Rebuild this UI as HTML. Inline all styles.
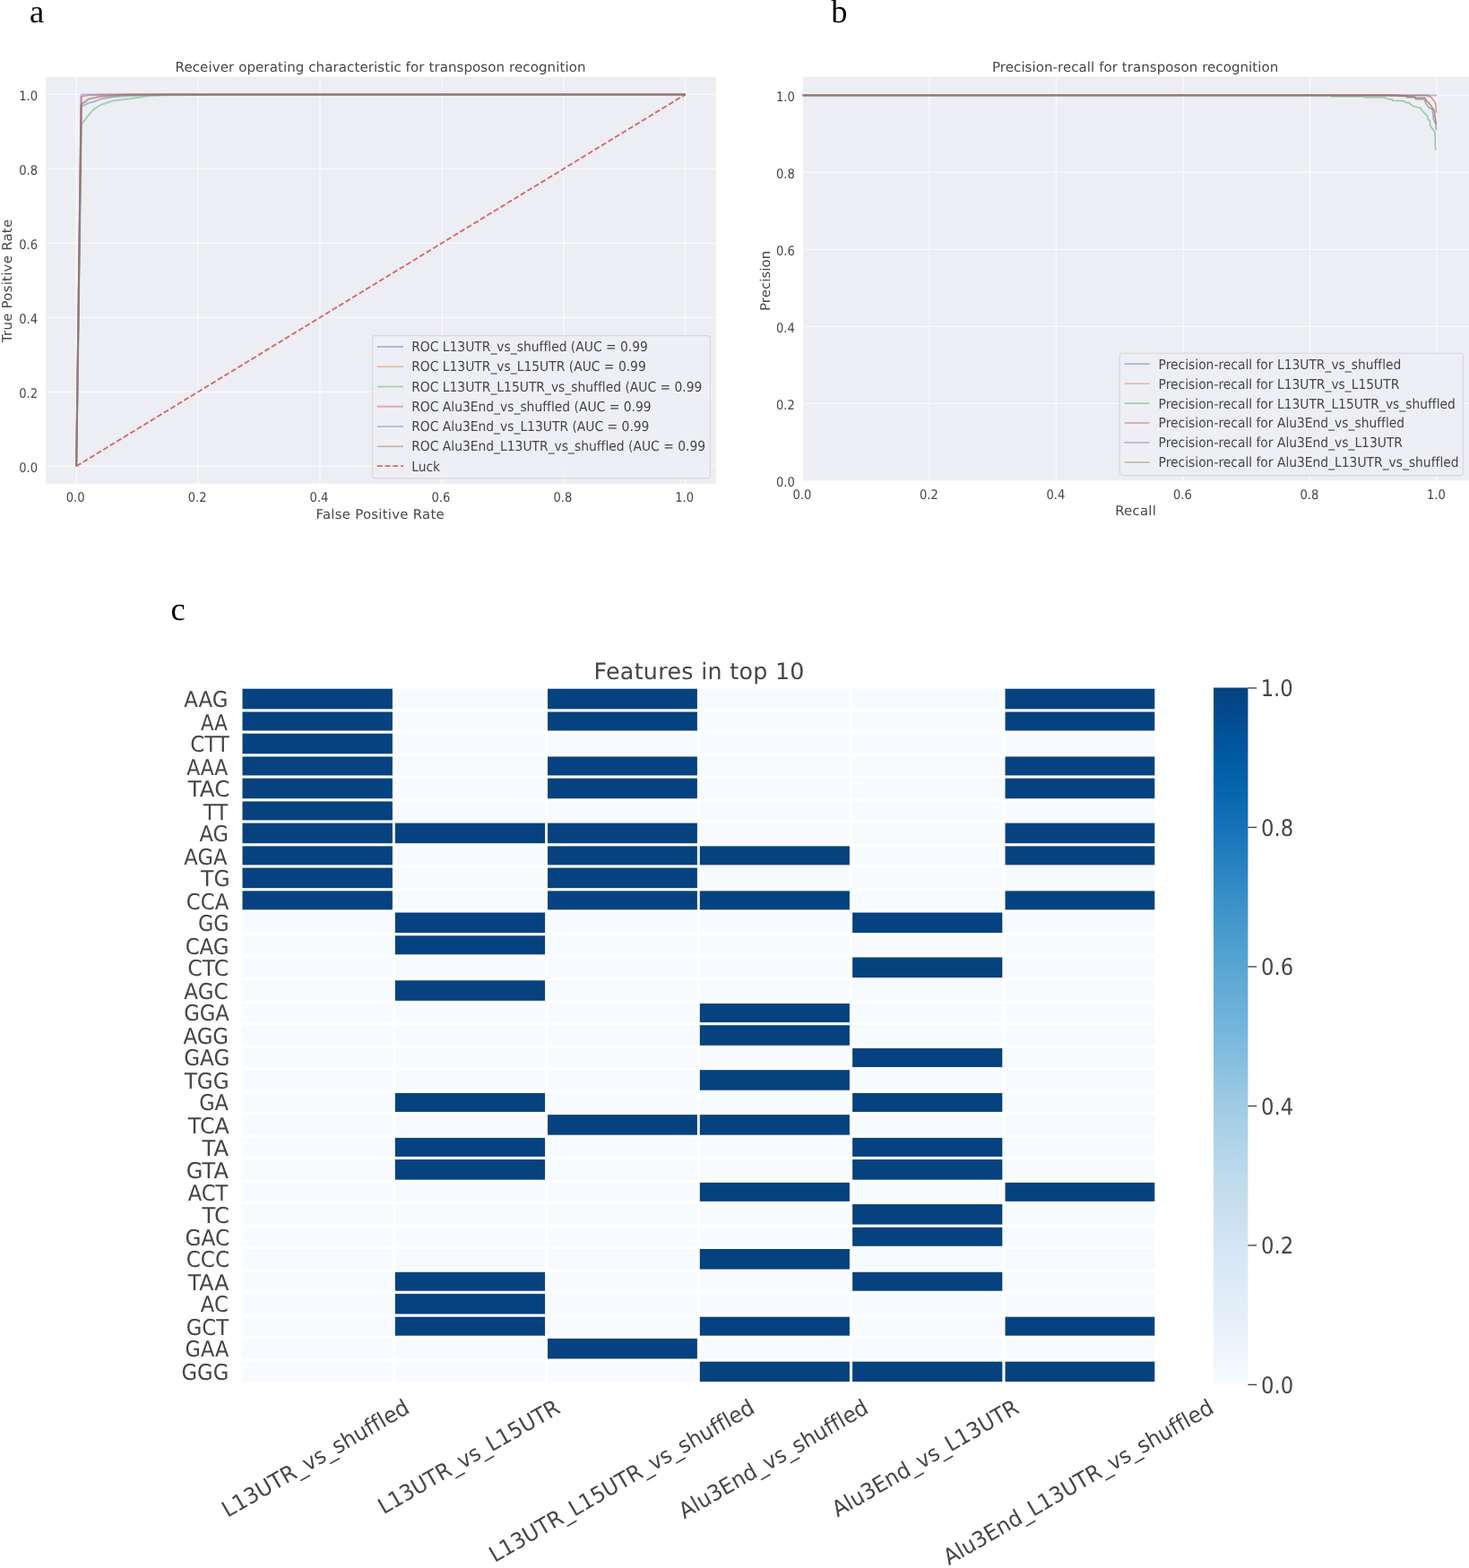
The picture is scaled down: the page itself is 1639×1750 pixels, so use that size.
<!DOCTYPE html>
<html><head><meta charset="utf-8"><title>Figure</title>
<style>html,body{margin:0;padding:0;background:#fff;}svg{display:block;}
text{font-family:'DejaVu Sans', 'Liberation Sans', sans-serif;fill:#464646;font-variant-ligatures:none;text-rendering:geometricPrecision;}</style></head>
<body><svg width="1639" height="1750" viewBox="0 0 1639 1750">
<rect width="1639" height="1750" fill="#fff"/>
<text x="32.9" y="25.1" font-size="36.5" style="fill:#000;font-family:'Liberation Serif', 'DejaVu Serif', serif;">a</text>
<text x="927.2" y="24.9" font-size="36.5" style="fill:#000;font-family:'Liberation Serif', 'DejaVu Serif', serif;">b</text>
<text x="190.5" y="691.5" font-size="36.5" style="fill:#000;font-family:'Liberation Serif', 'DejaVu Serif', serif;">c</text>
<rect x="51.25" y="85.9" width="747.55" height="453.9" fill="#EDEEF3"/>
<line x1="85.2" y1="85.9" x2="85.2" y2="539.8" stroke="#f8f9fb" stroke-width="1.3"/>
<line x1="51.25" y1="520.3" x2="798.8" y2="520.3" stroke="#f8f9fb" stroke-width="1.3"/>
<line x1="221.1" y1="85.9" x2="221.1" y2="539.8" stroke="#f8f9fb" stroke-width="1.3"/>
<line x1="51.25" y1="437.32" x2="798.8" y2="437.32" stroke="#f8f9fb" stroke-width="1.3"/>
<line x1="357" y1="85.9" x2="357" y2="539.8" stroke="#f8f9fb" stroke-width="1.3"/>
<line x1="51.25" y1="354.34" x2="798.8" y2="354.34" stroke="#f8f9fb" stroke-width="1.3"/>
<line x1="492.9" y1="85.9" x2="492.9" y2="539.8" stroke="#f8f9fb" stroke-width="1.3"/>
<line x1="51.25" y1="271.36" x2="798.8" y2="271.36" stroke="#f8f9fb" stroke-width="1.3"/>
<line x1="628.8" y1="85.9" x2="628.8" y2="539.8" stroke="#f8f9fb" stroke-width="1.3"/>
<line x1="51.25" y1="188.38" x2="798.8" y2="188.38" stroke="#f8f9fb" stroke-width="1.3"/>
<line x1="764.7" y1="85.9" x2="764.7" y2="539.8" stroke="#f8f9fb" stroke-width="1.3"/>
<line x1="51.25" y1="105.4" x2="798.8" y2="105.4" stroke="#f8f9fb" stroke-width="1.3"/>
<text x="84.2" y="559.8" font-size="14.6" text-anchor="middle" textLength="20.85" lengthAdjust="spacingAndGlyphs">0.0</text>
<text x="42.05" y="526.7" font-size="14.6" text-anchor="end" textLength="20.85" lengthAdjust="spacingAndGlyphs">0.0</text>
<text x="220.1" y="559.8" font-size="14.6" text-anchor="middle" textLength="20.85" lengthAdjust="spacingAndGlyphs">0.2</text>
<text x="42.05" y="443.72" font-size="14.6" text-anchor="end" textLength="20.85" lengthAdjust="spacingAndGlyphs">0.2</text>
<text x="356" y="559.8" font-size="14.6" text-anchor="middle" textLength="20.85" lengthAdjust="spacingAndGlyphs">0.4</text>
<text x="42.05" y="360.74" font-size="14.6" text-anchor="end" textLength="20.85" lengthAdjust="spacingAndGlyphs">0.4</text>
<text x="491.9" y="559.8" font-size="14.6" text-anchor="middle" textLength="20.85" lengthAdjust="spacingAndGlyphs">0.6</text>
<text x="42.05" y="277.76" font-size="14.6" text-anchor="end" textLength="20.85" lengthAdjust="spacingAndGlyphs">0.6</text>
<text x="627.8" y="559.8" font-size="14.6" text-anchor="middle" textLength="20.85" lengthAdjust="spacingAndGlyphs">0.8</text>
<text x="42.05" y="194.78" font-size="14.6" text-anchor="end" textLength="20.85" lengthAdjust="spacingAndGlyphs">0.8</text>
<text x="763.7" y="559.8" font-size="14.6" text-anchor="middle" textLength="20.85" lengthAdjust="spacingAndGlyphs">1.0</text>
<text x="42.05" y="111.8" font-size="14.6" text-anchor="end" textLength="20.85" lengthAdjust="spacingAndGlyphs">1.0</text>
<text x="195.6" y="79.8" font-size="15" textLength="457.86" lengthAdjust="spacing">Receiver operating characteristic for transposon recognition</text>
<text x="352.51" y="578.5" font-size="14.85" textLength="143.19" lengthAdjust="spacing">False Positive Rate</text>
<text transform="translate(13.0,382.13) rotate(-90)" font-size="14.85" textLength="137.21" lengthAdjust="spacing">True Positive Rate</text>
<polyline points="85.2,520.3 90.64,118.88 98.52,115.15 105.31,113.28 112.38,110.59 126.65,108.1 146.36,106.64 187.12,105.4 764.7,105.4" fill="none" stroke="#4C72B0" stroke-opacity="0.45" stroke-width="2" stroke-linejoin="round"/>
<polyline points="85.2,520.3 90.64,117.02 98.79,110.79 112.38,107.89 139.56,105.81 166.74,105.4 764.7,105.4" fill="none" stroke="#DD8452" stroke-opacity="0.45" stroke-width="2" stroke-linejoin="round"/>
<polyline points="85.2,520.3 90.98,139.01 97.43,130.09 104.23,122.41 112.38,117.02 125.97,112.45 146.36,109.96 166.06,107.06 185.09,106.23 248.28,105.4 764.7,105.4" fill="none" stroke="#55A868" stroke-opacity="0.45" stroke-width="2" stroke-linejoin="round"/>
<polyline points="85.2,520.3 90.64,107.89 98.79,106.23 119.18,105.4 764.7,105.4" fill="none" stroke="#C44E52" stroke-opacity="0.45" stroke-width="2" stroke-linejoin="round"/>
<polyline points="85.2,520.3 90.64,105.4 764.7,105.4" fill="none" stroke="#8172B3" stroke-opacity="0.45" stroke-width="2" stroke-linejoin="round"/>
<polyline points="85.2,520.3 90.64,116.19 98.79,110.38 112.38,107.47 139.56,105.81 159.94,105.4 764.7,105.4" fill="none" stroke="#937860" stroke-opacity="0.45" stroke-width="2" stroke-linejoin="round"/>
<line x1="85.2" y1="520.3" x2="764.7" y2="105.4" stroke="#cf585c" stroke-opacity="0.88" stroke-width="1.9" stroke-dasharray="6.0,2.8"/>
<rect x="415.6" y="374.6" width="376.8" height="159.2" rx="3.5" fill="#EDEEF3" fill-opacity="0.85" stroke="#d8d8dd" stroke-width="1.2"/>
<line x1="420.7" y1="387" x2="450" y2="387" stroke="#4C72B0" stroke-opacity="0.42" stroke-width="2"/>
<text x="459.21" y="392" font-size="15.2" textLength="263.68" lengthAdjust="spacingAndGlyphs">ROC L13UTR_vs_shuffled (AUC = 0.99</text>
<line x1="420.7" y1="409.25" x2="450" y2="409.25" stroke="#DD8452" stroke-opacity="0.42" stroke-width="2"/>
<text x="459.21" y="414.25" font-size="15.2" textLength="261.55" lengthAdjust="spacingAndGlyphs">ROC L13UTR_vs_L15UTR (AUC = 0.99</text>
<line x1="420.7" y1="431.5" x2="450" y2="431.5" stroke="#55A868" stroke-opacity="0.42" stroke-width="2"/>
<text x="459.21" y="436.5" font-size="15.2" textLength="324.22" lengthAdjust="spacingAndGlyphs">ROC L13UTR_L15UTR_vs_shuffled (AUC = 0.99</text>
<line x1="420.7" y1="453.75" x2="450" y2="453.75" stroke="#C44E52" stroke-opacity="0.42" stroke-width="2"/>
<text x="459.21" y="458.75" font-size="15.2" textLength="267.35" lengthAdjust="spacingAndGlyphs">ROC Alu3End_vs_shuffled (AUC = 0.99</text>
<line x1="420.7" y1="476" x2="450" y2="476" stroke="#8172B3" stroke-opacity="0.42" stroke-width="2"/>
<text x="459.21" y="481" font-size="15.2" textLength="265.23" lengthAdjust="spacingAndGlyphs">ROC Alu3End_vs_L13UTR (AUC = 0.99</text>
<line x1="420.7" y1="498.25" x2="450" y2="498.25" stroke="#937860" stroke-opacity="0.42" stroke-width="2"/>
<text x="459.21" y="503.25" font-size="15.2" textLength="327.89" lengthAdjust="spacingAndGlyphs">ROC Alu3End_L13UTR_vs_shuffled (AUC = 0.99</text>
<line x1="420.7" y1="520.1" x2="450" y2="520.1" stroke="#cf585c" stroke-opacity="0.88" stroke-width="1.9" stroke-dasharray="6.0,2.8"/>
<text x="459.21" y="525.5" font-size="15.2" textLength="31.91" lengthAdjust="spacingAndGlyphs">Luck</text>
<rect x="896" y="85.5" width="743" height="450.9" fill="#EDEEF3"/>
<line x1="1037.02" y1="85.5" x2="1037.02" y2="536.4" stroke="#f8f9fb" stroke-width="1.3"/>
<line x1="896" y1="450.4" x2="1639" y2="450.4" stroke="#f8f9fb" stroke-width="1.3"/>
<line x1="1178.54" y1="85.5" x2="1178.54" y2="536.4" stroke="#f8f9fb" stroke-width="1.3"/>
<line x1="896" y1="364.4" x2="1639" y2="364.4" stroke="#f8f9fb" stroke-width="1.3"/>
<line x1="1320.06" y1="85.5" x2="1320.06" y2="536.4" stroke="#f8f9fb" stroke-width="1.3"/>
<line x1="896" y1="278.4" x2="1639" y2="278.4" stroke="#f8f9fb" stroke-width="1.3"/>
<line x1="1461.58" y1="85.5" x2="1461.58" y2="536.4" stroke="#f8f9fb" stroke-width="1.3"/>
<line x1="896" y1="192.4" x2="1639" y2="192.4" stroke="#f8f9fb" stroke-width="1.3"/>
<line x1="1603.1" y1="85.5" x2="1603.1" y2="536.4" stroke="#f8f9fb" stroke-width="1.3"/>
<line x1="896" y1="106.4" x2="1639" y2="106.4" stroke="#f8f9fb" stroke-width="1.3"/>
<text x="894.8" y="556.7" font-size="14.6" text-anchor="middle" textLength="20.85" lengthAdjust="spacingAndGlyphs">0.0</text>
<text x="886.85" y="543.2" font-size="14.6" text-anchor="end" textLength="20.85" lengthAdjust="spacingAndGlyphs">0.0</text>
<text x="1036.32" y="556.7" font-size="14.6" text-anchor="middle" textLength="20.85" lengthAdjust="spacingAndGlyphs">0.2</text>
<text x="886.85" y="457.2" font-size="14.6" text-anchor="end" textLength="20.85" lengthAdjust="spacingAndGlyphs">0.2</text>
<text x="1177.84" y="556.7" font-size="14.6" text-anchor="middle" textLength="20.85" lengthAdjust="spacingAndGlyphs">0.4</text>
<text x="886.85" y="371.2" font-size="14.6" text-anchor="end" textLength="20.85" lengthAdjust="spacingAndGlyphs">0.4</text>
<text x="1319.36" y="556.7" font-size="14.6" text-anchor="middle" textLength="20.85" lengthAdjust="spacingAndGlyphs">0.6</text>
<text x="886.85" y="285.2" font-size="14.6" text-anchor="end" textLength="20.85" lengthAdjust="spacingAndGlyphs">0.6</text>
<text x="1460.88" y="556.7" font-size="14.6" text-anchor="middle" textLength="20.85" lengthAdjust="spacingAndGlyphs">0.8</text>
<text x="886.85" y="199.2" font-size="14.6" text-anchor="end" textLength="20.85" lengthAdjust="spacingAndGlyphs">0.8</text>
<text x="1602.4" y="556.7" font-size="14.6" text-anchor="middle" textLength="20.85" lengthAdjust="spacingAndGlyphs">1.0</text>
<text x="886.85" y="113.2" font-size="14.6" text-anchor="end" textLength="20.85" lengthAdjust="spacingAndGlyphs">1.0</text>
<text x="1107" y="79.5" font-size="15" textLength="319.29" lengthAdjust="spacing">Precision-recall for transposon recognition</text>
<text x="1244.22" y="575" font-size="14.85" textLength="45.57" lengthAdjust="spacing">Recall</text>
<text transform="translate(859.4,346.99) rotate(-90)" font-size="14.85" textLength="67.1" lengthAdjust="spacing">Precision</text>
<polyline points="895.5,106.4 1551.26,106.37 1551.26,106.98 1569.57,106.98 1569.57,108.81 1579.33,108.81 1579.33,110.64 1587.87,110.64 1589.09,111.25 1591.53,116.13 1593.97,119.79 1598.24,122.23 1599.46,133.22 1601.9,138.1 1602.51,145.42" fill="none" stroke="#4C72B0" stroke-opacity="0.55" stroke-width="1.6" stroke-linejoin="round"/>
<polyline points="895.5,106.4 1558.59,106.37 1558.59,106.98 1578.11,107.96 1579.33,109.18 1589.7,109.42 1590.92,111.25 1596.41,117.6 1600.32,124.06 1602.51,138.1" fill="none" stroke="#DD8452" stroke-opacity="0.55" stroke-width="1.6" stroke-linejoin="round"/>
<polyline points="895.5,106.4 1485.37,106.37 1485.37,107.59 1521.98,107.59 1523.2,108.81 1544.55,108.81 1546.99,110.03 1553.7,111.25 1553.7,112.47 1565.3,112.47 1568.35,114.3 1572.01,114.91 1576.89,118.57 1581.77,119.79 1584.82,120.4 1586.65,123.45 1589.09,125.89 1592.75,129.55 1593.36,133.22 1595.19,134.44 1595.8,140.54 1601.29,147.86 1601.29,164.94 1602.51,167.38" fill="none" stroke="#55A868" stroke-opacity="0.55" stroke-width="1.6" stroke-linejoin="round"/>
<polyline points="895.5,106.4 1592.75,106.37 1592.75,106.98 1596.41,108.2 1600.07,112.47 1601.9,116.13 1602.51,125.89" fill="none" stroke="#C44E52" stroke-opacity="0.55" stroke-width="1.6" stroke-linejoin="round"/>
<polyline points="895.5,106.4 1603.12,106.37" fill="none" stroke="#8172B3" stroke-opacity="0.55" stroke-width="1.6" stroke-linejoin="round"/>
<polyline points="895.5,106.4 1561.03,106.37 1561.03,106.98 1579.33,108.2 1579.33,109.42 1590.31,109.42 1590.31,111.25 1596.41,117.35 1600.07,123.45 1602.51,139.32" fill="none" stroke="#937860" stroke-opacity="0.55" stroke-width="1.6" stroke-linejoin="round"/>
<rect x="1249.25" y="394.25" width="383.15" height="136.35" rx="3.5" fill="#EDEEF3" fill-opacity="0.85" stroke="#d8d8dd" stroke-width="1.2"/>
<line x1="1254.6" y1="406.2" x2="1282.6" y2="406.2" stroke="#4C72B0" stroke-opacity="0.5" stroke-width="1.6"/>
<text x="1292.62" y="411.6" font-size="15.2" textLength="270.8" lengthAdjust="spacingAndGlyphs">Precision-recall for L13UTR_vs_shuffled</text>
<line x1="1254.6" y1="428.15" x2="1282.6" y2="428.15" stroke="#DD8452" stroke-opacity="0.5" stroke-width="1.6"/>
<text x="1292.62" y="433.55" font-size="15.2" textLength="268.68" lengthAdjust="spacingAndGlyphs">Precision-recall for L13UTR_vs_L15UTR</text>
<line x1="1254.6" y1="450.1" x2="1282.6" y2="450.1" stroke="#55A868" stroke-opacity="0.5" stroke-width="1.6"/>
<text x="1292.62" y="455.5" font-size="15.2" textLength="331.28" lengthAdjust="spacingAndGlyphs">Precision-recall for L13UTR_L15UTR_vs_shuffled</text>
<line x1="1254.6" y1="472.05" x2="1282.6" y2="472.05" stroke="#C44E52" stroke-opacity="0.5" stroke-width="1.6"/>
<text x="1292.62" y="477.45" font-size="15.2" textLength="274.48" lengthAdjust="spacingAndGlyphs">Precision-recall for Alu3End_vs_shuffled</text>
<line x1="1254.6" y1="494" x2="1282.6" y2="494" stroke="#8172B3" stroke-opacity="0.5" stroke-width="1.6"/>
<text x="1292.62" y="499.4" font-size="15.2" textLength="272.35" lengthAdjust="spacingAndGlyphs">Precision-recall for Alu3End_vs_L13UTR</text>
<line x1="1254.6" y1="515.95" x2="1282.6" y2="515.95" stroke="#937860" stroke-opacity="0.5" stroke-width="1.6"/>
<text x="1292.62" y="521.35" font-size="15.2" textLength="334.95" lengthAdjust="spacingAndGlyphs">Precision-recall for Alu3End_L13UTR_vs_shuffled</text>
<rect x="270.5" y="768.72" width="167.4" height="22.58" fill="#06427f"/>
<rect x="440.8" y="768.72" width="167.3" height="22.58" fill="#f7fbff"/>
<rect x="611" y="768.72" width="166.9" height="22.58" fill="#06427f"/>
<rect x="780.8" y="768.72" width="167.1" height="22.58" fill="#f7fbff"/>
<rect x="951.1" y="768.72" width="167.2" height="22.58" fill="#f7fbff"/>
<rect x="1121.5" y="768.72" width="166.8" height="22.58" fill="#06427f"/>
<rect x="270.5" y="794.5" width="167.4" height="20.97" fill="#06427f"/>
<rect x="440.8" y="794.5" width="167.3" height="20.97" fill="#f7fbff"/>
<rect x="611" y="794.5" width="166.9" height="20.97" fill="#06427f"/>
<rect x="780.8" y="794.5" width="167.1" height="20.97" fill="#f7fbff"/>
<rect x="951.1" y="794.5" width="167.2" height="20.97" fill="#f7fbff"/>
<rect x="1121.5" y="794.5" width="166.8" height="20.97" fill="#06427f"/>
<rect x="270.5" y="818.68" width="167.4" height="22.58" fill="#06427f"/>
<rect x="440.8" y="818.68" width="167.3" height="22.58" fill="#f7fbff"/>
<rect x="611" y="818.68" width="166.9" height="22.58" fill="#f7fbff"/>
<rect x="780.8" y="818.68" width="167.1" height="22.58" fill="#f7fbff"/>
<rect x="951.1" y="818.68" width="167.2" height="22.58" fill="#f7fbff"/>
<rect x="1121.5" y="818.68" width="166.8" height="22.58" fill="#f7fbff"/>
<rect x="270.5" y="844.46" width="167.4" height="20.97" fill="#06427f"/>
<rect x="440.8" y="844.46" width="167.3" height="20.97" fill="#f7fbff"/>
<rect x="611" y="844.46" width="166.9" height="20.97" fill="#06427f"/>
<rect x="780.8" y="844.46" width="167.1" height="20.97" fill="#f7fbff"/>
<rect x="951.1" y="844.46" width="167.2" height="20.97" fill="#f7fbff"/>
<rect x="1121.5" y="844.46" width="166.8" height="20.97" fill="#06427f"/>
<rect x="270.5" y="868.63" width="167.4" height="22.58" fill="#06427f"/>
<rect x="440.8" y="868.63" width="167.3" height="22.58" fill="#f7fbff"/>
<rect x="611" y="868.63" width="166.9" height="22.58" fill="#06427f"/>
<rect x="780.8" y="868.63" width="167.1" height="22.58" fill="#f7fbff"/>
<rect x="951.1" y="868.63" width="167.2" height="22.58" fill="#f7fbff"/>
<rect x="1121.5" y="868.63" width="166.8" height="22.58" fill="#06427f"/>
<rect x="270.5" y="894.42" width="167.4" height="20.97" fill="#06427f"/>
<rect x="440.8" y="894.42" width="167.3" height="20.97" fill="#f7fbff"/>
<rect x="611" y="894.42" width="166.9" height="20.97" fill="#f7fbff"/>
<rect x="780.8" y="894.42" width="167.1" height="20.97" fill="#f7fbff"/>
<rect x="951.1" y="894.42" width="167.2" height="20.97" fill="#f7fbff"/>
<rect x="1121.5" y="894.42" width="166.8" height="20.97" fill="#f7fbff"/>
<rect x="270.5" y="918.59" width="167.4" height="22.58" fill="#06427f"/>
<rect x="440.8" y="918.59" width="167.3" height="22.58" fill="#06427f"/>
<rect x="611" y="918.59" width="166.9" height="22.58" fill="#06427f"/>
<rect x="780.8" y="918.59" width="167.1" height="22.58" fill="#f7fbff"/>
<rect x="951.1" y="918.59" width="167.2" height="22.58" fill="#f7fbff"/>
<rect x="1121.5" y="918.59" width="166.8" height="22.58" fill="#06427f"/>
<rect x="270.5" y="944.37" width="167.4" height="20.97" fill="#06427f"/>
<rect x="440.8" y="944.37" width="167.3" height="20.97" fill="#f7fbff"/>
<rect x="611" y="944.37" width="166.9" height="20.97" fill="#06427f"/>
<rect x="780.8" y="944.37" width="167.1" height="20.97" fill="#06427f"/>
<rect x="951.1" y="944.37" width="167.2" height="20.97" fill="#f7fbff"/>
<rect x="1121.5" y="944.37" width="166.8" height="20.97" fill="#06427f"/>
<rect x="270.5" y="968.55" width="167.4" height="22.58" fill="#06427f"/>
<rect x="440.8" y="968.55" width="167.3" height="22.58" fill="#f7fbff"/>
<rect x="611" y="968.55" width="166.9" height="22.58" fill="#06427f"/>
<rect x="780.8" y="968.55" width="167.1" height="22.58" fill="#f7fbff"/>
<rect x="951.1" y="968.55" width="167.2" height="22.58" fill="#f7fbff"/>
<rect x="1121.5" y="968.55" width="166.8" height="22.58" fill="#f7fbff"/>
<rect x="270.5" y="994.33" width="167.4" height="20.97" fill="#06427f"/>
<rect x="440.8" y="994.33" width="167.3" height="20.97" fill="#f7fbff"/>
<rect x="611" y="994.33" width="166.9" height="20.97" fill="#06427f"/>
<rect x="780.8" y="994.33" width="167.1" height="20.97" fill="#06427f"/>
<rect x="951.1" y="994.33" width="167.2" height="20.97" fill="#f7fbff"/>
<rect x="1121.5" y="994.33" width="166.8" height="20.97" fill="#06427f"/>
<rect x="270.5" y="1018.5" width="167.4" height="22.58" fill="#f7fbff"/>
<rect x="440.8" y="1018.5" width="167.3" height="22.58" fill="#06427f"/>
<rect x="611" y="1018.5" width="166.9" height="22.58" fill="#f7fbff"/>
<rect x="780.8" y="1018.5" width="167.1" height="22.58" fill="#f7fbff"/>
<rect x="951.1" y="1018.5" width="167.2" height="22.58" fill="#06427f"/>
<rect x="1121.5" y="1018.5" width="166.8" height="22.58" fill="#f7fbff"/>
<rect x="270.5" y="1044.29" width="167.4" height="20.97" fill="#f7fbff"/>
<rect x="440.8" y="1044.29" width="167.3" height="20.97" fill="#06427f"/>
<rect x="611" y="1044.29" width="166.9" height="20.97" fill="#f7fbff"/>
<rect x="780.8" y="1044.29" width="167.1" height="20.97" fill="#f7fbff"/>
<rect x="951.1" y="1044.29" width="167.2" height="20.97" fill="#f7fbff"/>
<rect x="1121.5" y="1044.29" width="166.8" height="20.97" fill="#f7fbff"/>
<rect x="270.5" y="1068.46" width="167.4" height="22.58" fill="#f7fbff"/>
<rect x="440.8" y="1068.46" width="167.3" height="22.58" fill="#f7fbff"/>
<rect x="611" y="1068.46" width="166.9" height="22.58" fill="#f7fbff"/>
<rect x="780.8" y="1068.46" width="167.1" height="22.58" fill="#f7fbff"/>
<rect x="951.1" y="1068.46" width="167.2" height="22.58" fill="#06427f"/>
<rect x="1121.5" y="1068.46" width="166.8" height="22.58" fill="#f7fbff"/>
<rect x="270.5" y="1094.24" width="167.4" height="22.58" fill="#f7fbff"/>
<rect x="440.8" y="1094.24" width="167.3" height="22.58" fill="#06427f"/>
<rect x="611" y="1094.24" width="166.9" height="22.58" fill="#f7fbff"/>
<rect x="780.8" y="1094.24" width="167.1" height="22.58" fill="#f7fbff"/>
<rect x="951.1" y="1094.24" width="167.2" height="22.58" fill="#f7fbff"/>
<rect x="1121.5" y="1094.24" width="166.8" height="22.58" fill="#f7fbff"/>
<rect x="270.5" y="1120.03" width="167.4" height="20.97" fill="#f7fbff"/>
<rect x="440.8" y="1120.03" width="167.3" height="20.97" fill="#f7fbff"/>
<rect x="611" y="1120.03" width="166.9" height="20.97" fill="#f7fbff"/>
<rect x="780.8" y="1120.03" width="167.1" height="20.97" fill="#06427f"/>
<rect x="951.1" y="1120.03" width="167.2" height="20.97" fill="#f7fbff"/>
<rect x="1121.5" y="1120.03" width="166.8" height="20.97" fill="#f7fbff"/>
<rect x="270.5" y="1144.2" width="167.4" height="22.58" fill="#f7fbff"/>
<rect x="440.8" y="1144.2" width="167.3" height="22.58" fill="#f7fbff"/>
<rect x="611" y="1144.2" width="166.9" height="22.58" fill="#f7fbff"/>
<rect x="780.8" y="1144.2" width="167.1" height="22.58" fill="#06427f"/>
<rect x="951.1" y="1144.2" width="167.2" height="22.58" fill="#f7fbff"/>
<rect x="1121.5" y="1144.2" width="166.8" height="22.58" fill="#f7fbff"/>
<rect x="270.5" y="1169.98" width="167.4" height="20.97" fill="#f7fbff"/>
<rect x="440.8" y="1169.98" width="167.3" height="20.97" fill="#f7fbff"/>
<rect x="611" y="1169.98" width="166.9" height="20.97" fill="#f7fbff"/>
<rect x="780.8" y="1169.98" width="167.1" height="20.97" fill="#f7fbff"/>
<rect x="951.1" y="1169.98" width="167.2" height="20.97" fill="#06427f"/>
<rect x="1121.5" y="1169.98" width="166.8" height="20.97" fill="#f7fbff"/>
<rect x="270.5" y="1194.16" width="167.4" height="22.58" fill="#f7fbff"/>
<rect x="440.8" y="1194.16" width="167.3" height="22.58" fill="#f7fbff"/>
<rect x="611" y="1194.16" width="166.9" height="22.58" fill="#f7fbff"/>
<rect x="780.8" y="1194.16" width="167.1" height="22.58" fill="#06427f"/>
<rect x="951.1" y="1194.16" width="167.2" height="22.58" fill="#f7fbff"/>
<rect x="1121.5" y="1194.16" width="166.8" height="22.58" fill="#f7fbff"/>
<rect x="270.5" y="1219.94" width="167.4" height="20.97" fill="#f7fbff"/>
<rect x="440.8" y="1219.94" width="167.3" height="20.97" fill="#06427f"/>
<rect x="611" y="1219.94" width="166.9" height="20.97" fill="#f7fbff"/>
<rect x="780.8" y="1219.94" width="167.1" height="20.97" fill="#f7fbff"/>
<rect x="951.1" y="1219.94" width="167.2" height="20.97" fill="#06427f"/>
<rect x="1121.5" y="1219.94" width="166.8" height="20.97" fill="#f7fbff"/>
<rect x="270.5" y="1244.11" width="167.4" height="22.58" fill="#f7fbff"/>
<rect x="440.8" y="1244.11" width="167.3" height="22.58" fill="#f7fbff"/>
<rect x="611" y="1244.11" width="166.9" height="22.58" fill="#06427f"/>
<rect x="780.8" y="1244.11" width="167.1" height="22.58" fill="#06427f"/>
<rect x="951.1" y="1244.11" width="167.2" height="22.58" fill="#f7fbff"/>
<rect x="1121.5" y="1244.11" width="166.8" height="22.58" fill="#f7fbff"/>
<rect x="270.5" y="1269.9" width="167.4" height="20.97" fill="#f7fbff"/>
<rect x="440.8" y="1269.9" width="167.3" height="20.97" fill="#06427f"/>
<rect x="611" y="1269.9" width="166.9" height="20.97" fill="#f7fbff"/>
<rect x="780.8" y="1269.9" width="167.1" height="20.97" fill="#f7fbff"/>
<rect x="951.1" y="1269.9" width="167.2" height="20.97" fill="#06427f"/>
<rect x="1121.5" y="1269.9" width="166.8" height="20.97" fill="#f7fbff"/>
<rect x="270.5" y="1294.07" width="167.4" height="22.58" fill="#f7fbff"/>
<rect x="440.8" y="1294.07" width="167.3" height="22.58" fill="#06427f"/>
<rect x="611" y="1294.07" width="166.9" height="22.58" fill="#f7fbff"/>
<rect x="780.8" y="1294.07" width="167.1" height="22.58" fill="#f7fbff"/>
<rect x="951.1" y="1294.07" width="167.2" height="22.58" fill="#06427f"/>
<rect x="1121.5" y="1294.07" width="166.8" height="22.58" fill="#f7fbff"/>
<rect x="270.5" y="1319.85" width="167.4" height="20.97" fill="#f7fbff"/>
<rect x="440.8" y="1319.85" width="167.3" height="20.97" fill="#f7fbff"/>
<rect x="611" y="1319.85" width="166.9" height="20.97" fill="#f7fbff"/>
<rect x="780.8" y="1319.85" width="167.1" height="20.97" fill="#06427f"/>
<rect x="951.1" y="1319.85" width="167.2" height="20.97" fill="#f7fbff"/>
<rect x="1121.5" y="1319.85" width="166.8" height="20.97" fill="#06427f"/>
<rect x="270.5" y="1344.03" width="167.4" height="22.58" fill="#f7fbff"/>
<rect x="440.8" y="1344.03" width="167.3" height="22.58" fill="#f7fbff"/>
<rect x="611" y="1344.03" width="166.9" height="22.58" fill="#f7fbff"/>
<rect x="780.8" y="1344.03" width="167.1" height="22.58" fill="#f7fbff"/>
<rect x="951.1" y="1344.03" width="167.2" height="22.58" fill="#06427f"/>
<rect x="1121.5" y="1344.03" width="166.8" height="22.58" fill="#f7fbff"/>
<rect x="270.5" y="1369.81" width="167.4" height="20.97" fill="#f7fbff"/>
<rect x="440.8" y="1369.81" width="167.3" height="20.97" fill="#f7fbff"/>
<rect x="611" y="1369.81" width="166.9" height="20.97" fill="#f7fbff"/>
<rect x="780.8" y="1369.81" width="167.1" height="20.97" fill="#f7fbff"/>
<rect x="951.1" y="1369.81" width="167.2" height="20.97" fill="#06427f"/>
<rect x="1121.5" y="1369.81" width="166.8" height="20.97" fill="#f7fbff"/>
<rect x="270.5" y="1393.98" width="167.4" height="22.58" fill="#f7fbff"/>
<rect x="440.8" y="1393.98" width="167.3" height="22.58" fill="#f7fbff"/>
<rect x="611" y="1393.98" width="166.9" height="22.58" fill="#f7fbff"/>
<rect x="780.8" y="1393.98" width="167.1" height="22.58" fill="#06427f"/>
<rect x="951.1" y="1393.98" width="167.2" height="22.58" fill="#f7fbff"/>
<rect x="1121.5" y="1393.98" width="166.8" height="22.58" fill="#f7fbff"/>
<rect x="270.5" y="1419.77" width="167.4" height="20.97" fill="#f7fbff"/>
<rect x="440.8" y="1419.77" width="167.3" height="20.97" fill="#06427f"/>
<rect x="611" y="1419.77" width="166.9" height="20.97" fill="#f7fbff"/>
<rect x="780.8" y="1419.77" width="167.1" height="20.97" fill="#f7fbff"/>
<rect x="951.1" y="1419.77" width="167.2" height="20.97" fill="#06427f"/>
<rect x="1121.5" y="1419.77" width="166.8" height="20.97" fill="#f7fbff"/>
<rect x="270.5" y="1443.94" width="167.4" height="22.58" fill="#f7fbff"/>
<rect x="440.8" y="1443.94" width="167.3" height="22.58" fill="#06427f"/>
<rect x="611" y="1443.94" width="166.9" height="22.58" fill="#f7fbff"/>
<rect x="780.8" y="1443.94" width="167.1" height="22.58" fill="#f7fbff"/>
<rect x="951.1" y="1443.94" width="167.2" height="22.58" fill="#f7fbff"/>
<rect x="1121.5" y="1443.94" width="166.8" height="22.58" fill="#f7fbff"/>
<rect x="270.5" y="1469.72" width="167.4" height="20.97" fill="#f7fbff"/>
<rect x="440.8" y="1469.72" width="167.3" height="20.97" fill="#06427f"/>
<rect x="611" y="1469.72" width="166.9" height="20.97" fill="#f7fbff"/>
<rect x="780.8" y="1469.72" width="167.1" height="20.97" fill="#06427f"/>
<rect x="951.1" y="1469.72" width="167.2" height="20.97" fill="#f7fbff"/>
<rect x="1121.5" y="1469.72" width="166.8" height="20.97" fill="#06427f"/>
<rect x="270.5" y="1493.89" width="167.4" height="22.58" fill="#f7fbff"/>
<rect x="440.8" y="1493.89" width="167.3" height="22.58" fill="#f7fbff"/>
<rect x="611" y="1493.89" width="166.9" height="22.58" fill="#06427f"/>
<rect x="780.8" y="1493.89" width="167.1" height="22.58" fill="#f7fbff"/>
<rect x="951.1" y="1493.89" width="167.2" height="22.58" fill="#f7fbff"/>
<rect x="1121.5" y="1493.89" width="166.8" height="22.58" fill="#f7fbff"/>
<rect x="270.5" y="1519.68" width="167.4" height="22.32" fill="#f7fbff"/>
<rect x="440.8" y="1519.68" width="167.3" height="22.32" fill="#f7fbff"/>
<rect x="611" y="1519.68" width="166.9" height="22.32" fill="#f7fbff"/>
<rect x="780.8" y="1519.68" width="167.1" height="22.32" fill="#06427f"/>
<rect x="951.1" y="1519.68" width="167.2" height="22.32" fill="#06427f"/>
<rect x="1121.5" y="1519.68" width="166.8" height="22.32" fill="#06427f"/>
<text x="205.37" y="789.19" font-size="24.5" textLength="49.13" lengthAdjust="spacingAndGlyphs">AAG</text>
<text x="224.09" y="814.97" font-size="24.5" textLength="29.65" lengthAdjust="spacingAndGlyphs">AA</text>
<text x="212.14" y="839.15" font-size="24.5" textLength="43.6" lengthAdjust="spacingAndGlyphs">CTT</text>
<text x="208.18" y="864.93" font-size="24.5" textLength="46.19" lengthAdjust="spacingAndGlyphs">AAA</text>
<text x="209.72" y="889.1" font-size="24.5" textLength="46.58" lengthAdjust="spacing">TAC</text>
<text x="227.01" y="914.89" font-size="24.5" textLength="27.45" lengthAdjust="spacingAndGlyphs">TT</text>
<text x="222.57" y="939.06" font-size="24.5" textLength="32.46" lengthAdjust="spacingAndGlyphs">AG</text>
<text x="205.37" y="964.84" font-size="24.5" textLength="48.06" lengthAdjust="spacingAndGlyphs">AGA</text>
<text x="224.12" y="989.02" font-size="24.5" textLength="32.37" lengthAdjust="spacingAndGlyphs">TG</text>
<text x="207.85" y="1014.8" font-size="24.5" textLength="47.39" lengthAdjust="spacingAndGlyphs">CCA</text>
<text x="220.97" y="1038.97" font-size="24.5" textLength="34.61" lengthAdjust="spacingAndGlyphs">GG</text>
<text x="206.64" y="1064.76" font-size="24.5" textLength="48.98" lengthAdjust="spacingAndGlyphs">CAG</text>
<text x="209.21" y="1088.93" font-size="24.5" textLength="45.86" lengthAdjust="spacingAndGlyphs">CTC</text>
<text x="205.37" y="1114.71" font-size="24.5" textLength="49.08" lengthAdjust="spacingAndGlyphs">AGC</text>
<text x="205.15" y="1138.89" font-size="24.5" textLength="50.65" lengthAdjust="spacingAndGlyphs">GGA</text>
<text x="204.47" y="1164.67" font-size="24.5" textLength="50.58" lengthAdjust="spacingAndGlyphs">AGG</text>
<text x="205.13" y="1188.84" font-size="24.5" textLength="51.15" lengthAdjust="spacingAndGlyphs">GAG</text>
<text x="205.72" y="1214.63" font-size="24.5" textLength="49.95" lengthAdjust="spacingAndGlyphs">TGG</text>
<text x="222.17" y="1238.8" font-size="24.5" textLength="32.63" lengthAdjust="spacingAndGlyphs">GA</text>
<text x="209.72" y="1264.58" font-size="24.5" textLength="46.11" lengthAdjust="spacingAndGlyphs">TCA</text>
<text x="225.62" y="1290.37" font-size="24.5" textLength="29.56" lengthAdjust="spacingAndGlyphs">TA</text>
<text x="207.78" y="1314.54" font-size="24.5" textLength="47.1" lengthAdjust="spacingAndGlyphs">GTA</text>
<text x="209.67" y="1340.32" font-size="24.5" textLength="44.63" lengthAdjust="spacingAndGlyphs">ACT</text>
<text x="225.62" y="1364.5" font-size="24.5" textLength="30.33" lengthAdjust="spacingAndGlyphs">TC</text>
<text x="206.53" y="1390.28" font-size="24.5" textLength="49.54" lengthAdjust="spacingAndGlyphs">GAC</text>
<text x="207.73" y="1414.45" font-size="24.5" textLength="48.33" lengthAdjust="spacingAndGlyphs">CCC</text>
<text x="209.72" y="1440.24" font-size="24.5" textLength="45.7" lengthAdjust="spacingAndGlyphs">TAA</text>
<text x="223.87" y="1464.41" font-size="24.5" textLength="30.76" lengthAdjust="spacingAndGlyphs">AC</text>
<text x="207.75" y="1490.19" font-size="24.5" textLength="47.31" lengthAdjust="spacingAndGlyphs">GCT</text>
<text x="206.57" y="1514.37" font-size="24.5" textLength="48.68" lengthAdjust="spacingAndGlyphs">GAA</text>
<text x="202.55" y="1540.15" font-size="24.5" textLength="52.65" lengthAdjust="spacingAndGlyphs">GGG</text>
<text x="662.43" y="758.3" font-size="25.3" textLength="235.04" lengthAdjust="spacing">Features in top 10</text>
<text transform="translate(458.5,1575.8) rotate(-30)" x="0" y="0" font-size="24.5" text-anchor="end" textLength="236.44" lengthAdjust="spacingAndGlyphs">L13UTR_vs_shuffled</text>
<text transform="translate(626.6,1575.8) rotate(-30)" x="0" y="0" font-size="24.5" text-anchor="end" textLength="229.43" lengthAdjust="spacingAndGlyphs">L13UTR_vs_L15UTR</text>
<text transform="translate(843.7,1575.8) rotate(-30)" x="0" y="0" font-size="24.5" text-anchor="end" textLength="336.87" lengthAdjust="spacingAndGlyphs">L13UTR_L15UTR_vs_shuffled</text>
<text transform="translate(970.6,1575.8) rotate(-30)" x="0" y="0" font-size="24.5" text-anchor="end" textLength="239.18" lengthAdjust="spacingAndGlyphs">Alu3End_vs_shuffled</text>
<text transform="translate(1138.6,1575.8) rotate(-30)" x="0" y="0" font-size="24.5" text-anchor="end" textLength="235.61" lengthAdjust="spacingAndGlyphs">Alu3End_vs_L13UTR</text>
<text transform="translate(1355.8,1575.8) rotate(-30)" x="0" y="0" font-size="24.5" text-anchor="end" textLength="343.09" lengthAdjust="spacingAndGlyphs">Alu3End_L13UTR_vs_shuffled</text>
<defs><linearGradient id="cb" x1="0" y1="1" x2="0" y2="0"><stop offset="0" stop-color="rgb(247,251,255)"/><stop offset="0.1" stop-color="rgb(228,239,249)"/><stop offset="0.2" stop-color="rgb(212,229,244)"/><stop offset="0.3" stop-color="rgb(190,218,236)"/><stop offset="0.4" stop-color="rgb(160,203,228)"/><stop offset="0.5" stop-color="rgb(120,183,220)"/><stop offset="0.6" stop-color="rgb(88,165,211)"/><stop offset="0.7" stop-color="rgb(55,143,200)"/><stop offset="0.8" stop-color="rgb(22,114,184)"/><stop offset="0.86" stop-color="rgb(3,100,172)"/><stop offset="0.92" stop-color="rgb(0,86,158)"/><stop offset="0.97" stop-color="rgb(3,72,140)"/><stop offset="1" stop-color="rgb(6,66,127)"/></linearGradient></defs>
<rect x="1354" y="767.5" width="38.4" height="777.5" fill="url(#cb)"/>
<line x1="1392.4" y1="1545.4" x2="1402.2" y2="1545.4" stroke="#464646" stroke-width="1.4"/>
<text x="1407.03" y="1554.5" font-size="25.75" textLength="36.04" lengthAdjust="spacingAndGlyphs">0.0</text>
<line x1="1392.4" y1="1389.9" x2="1402.2" y2="1389.9" stroke="#464646" stroke-width="1.4"/>
<text x="1407.03" y="1399" font-size="25.75" textLength="36.04" lengthAdjust="spacingAndGlyphs">0.2</text>
<line x1="1392.4" y1="1234.4" x2="1402.2" y2="1234.4" stroke="#464646" stroke-width="1.4"/>
<text x="1407.03" y="1243.5" font-size="25.75" textLength="36.04" lengthAdjust="spacingAndGlyphs">0.4</text>
<line x1="1392.4" y1="1078.9" x2="1402.2" y2="1078.9" stroke="#464646" stroke-width="1.4"/>
<text x="1407.03" y="1088" font-size="25.75" textLength="36.04" lengthAdjust="spacingAndGlyphs">0.6</text>
<line x1="1392.4" y1="923.4" x2="1402.2" y2="923.4" stroke="#464646" stroke-width="1.4"/>
<text x="1407.03" y="932.5" font-size="25.75" textLength="36.04" lengthAdjust="spacingAndGlyphs">0.8</text>
<line x1="1392.4" y1="767.9" x2="1402.2" y2="767.9" stroke="#464646" stroke-width="1.4"/>
<text x="1406.71" y="777" font-size="25.75" textLength="36.04" lengthAdjust="spacingAndGlyphs">1.0</text>
</svg></body></html>
